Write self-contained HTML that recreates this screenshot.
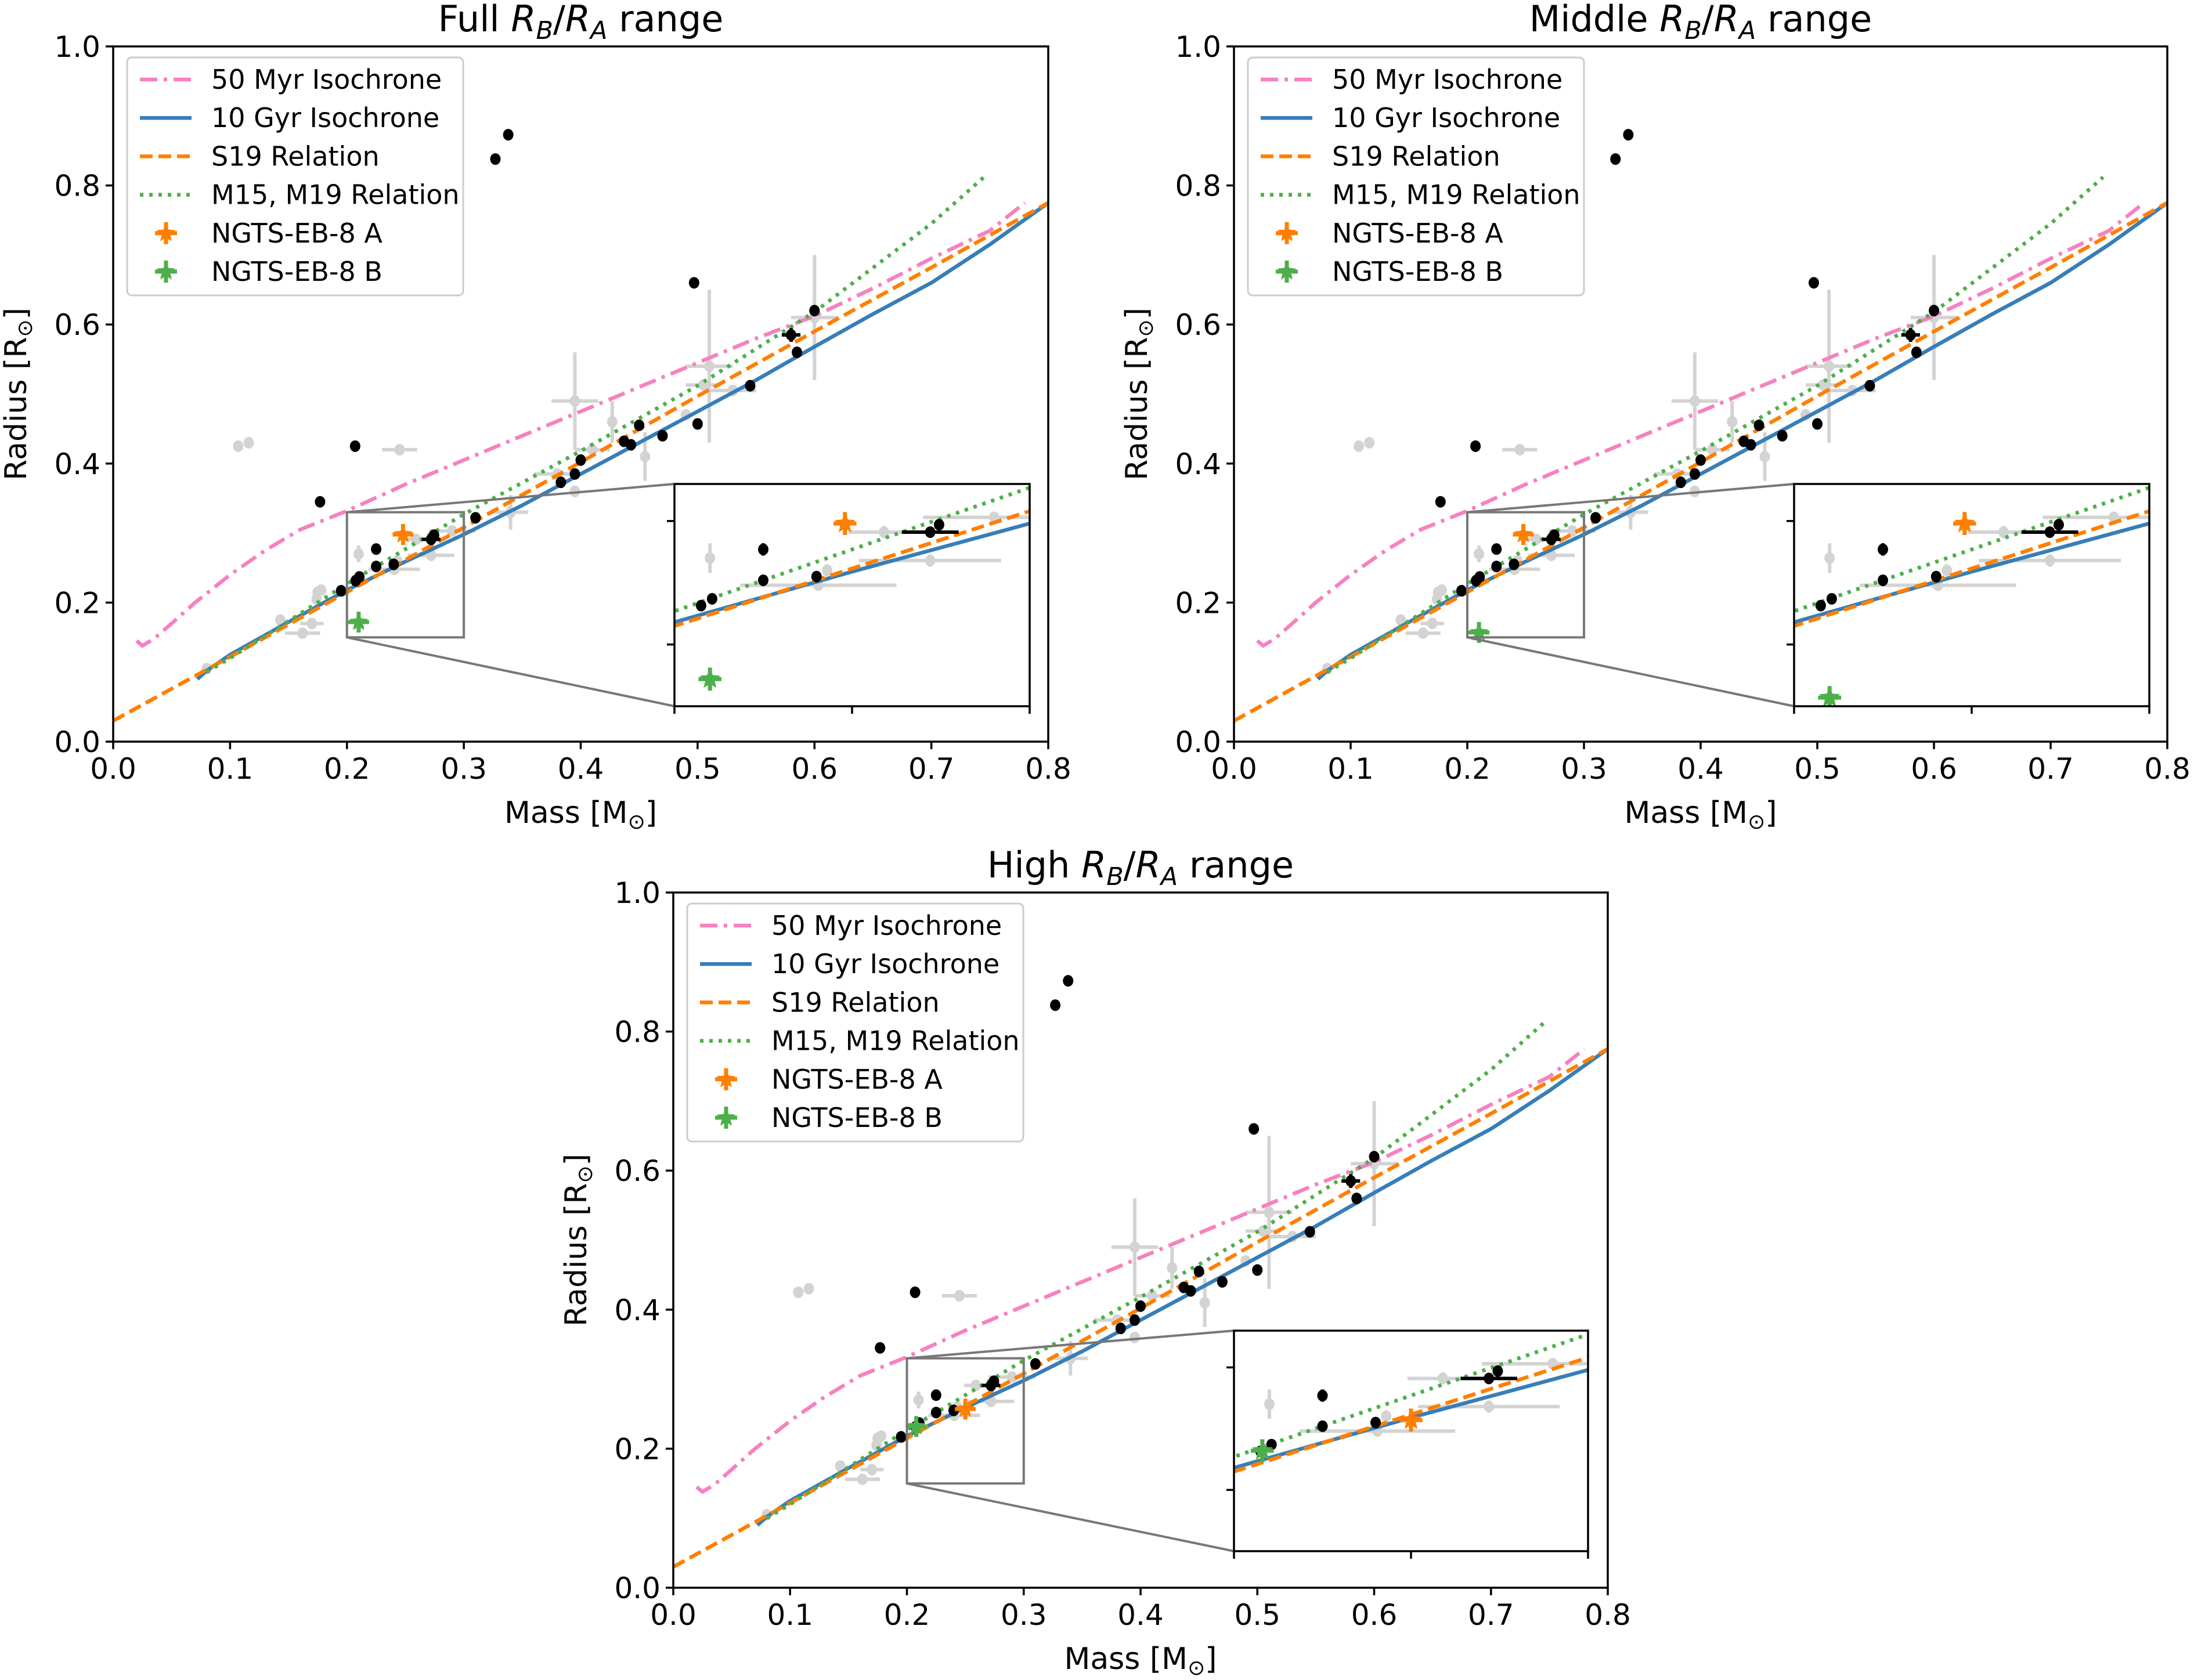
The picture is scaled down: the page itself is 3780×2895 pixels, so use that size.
<!DOCTYPE html>
<html><head><meta charset="utf-8"><style>
html,body{margin:0;padding:0;background:#fff;}
svg{display:block;font-family:"DejaVu Sans","Liberation Sans",sans-serif;}
</style></head><body>
<svg id="fig" width="3780" height="2895" viewBox="0 0 3780 2895" xmlns="http://www.w3.org/2000/svg"></svg>
<script>
const xTicks=[0.0,0.1,0.2,0.3,0.4,0.5,0.6,0.7,0.8];
const yTicks=[0.0,0.2,0.4,0.6,0.8,1.0];
const myrM=[0.02,0.025,0.035,0.05,0.07,0.1,0.13,0.16,0.2,0.25,0.3,0.35,0.4,0.45,0.5,0.55,0.6,0.65,0.7,0.75,0.78];
const myrR=[0.145,0.138,0.148,0.17,0.2,0.24,0.275,0.305,0.332,0.37,0.405,0.44,0.475,0.51,0.545,0.58,0.612,0.652,0.695,0.735,0.775];
const gyrM=[0.072,0.08,0.1,0.15,0.2,0.25,0.3,0.35,0.4,0.45,0.5,0.55,0.6,0.65,0.7,0.75,0.8];
const gyrR=[0.09,0.102,0.125,0.172,0.218,0.259,0.298,0.34,0.385,0.43,0.475,0.52,0.568,0.615,0.66,0.715,0.775];
const s19M=[0.0,0.1,0.2,0.3,0.4,0.5,0.6,0.7,0.8];
const s19R=[0.03,0.122,0.215,0.308,0.402,0.497,0.59,0.682,0.775];
const m15M=[0.08,0.1,0.2,0.3,0.4,0.5,0.6,0.7,0.745];
const m15R=[0.1,0.12,0.227,0.327,0.418,0.512,0.618,0.745,0.812];
const blkM=[0.177,0.207,0.327,0.338,0.497,0.5,0.6,0.585,0.58,0.545,0.47,0.45,0.443,0.437,0.4,0.395,0.383,0.31,0.2745,0.272,0.24,0.225,0.225,0.2106,0.2075,0.195];
const blkR=[0.345,0.425,0.838,0.873,0.66,0.457,0.62,0.56,0.585,0.512,0.44,0.455,0.427,0.432,0.405,0.385,0.373,0.322,0.297,0.291,0.255,0.252,0.277,0.237,0.2315,0.217];
const blkXe=[0,0,0,0,0,0,0,0,0.008,0,0,0,0,0,0,0,0,0,0,0.008,0,0,0,0,0,0];
const blkYe=[0,0,0,0,0,0,0,0,0.01,0,0,0,0,0,0,0,0,0,0,0,0,0,0.005,0,0,0];
const gryM=[0.107,0.116,0.245,0.08,0.143,0.17,0.162,0.175,0.178,0.174,0.21,0.259,0.272,0.2405,0.243,0.29,0.34,0.395,0.427,0.41,0.455,0.38,0.395,0.49,0.51,0.505,0.53,0.6];
const gryR=[0.425,0.43,0.42,0.105,0.175,0.17,0.156,0.215,0.218,0.205,0.27,0.291,0.268,0.248,0.26,0.303,0.33,0.49,0.46,0.42,0.41,0.385,0.36,0.47,0.54,0.513,0.505,0.61];
const gryXe=[0,0,0.015,0,0,0.01,0.015,0,0,0,0,0.01,0.02,0.022,0,0.02,0.015,0.02,0,0.015,0,0.02,0,0,0.02,0.015,0.02,0.02];
const gryYe=[0,0,0,0,0,0,0,0,0,0,0.012,0.005,0.005,0,0.005,0,0.025,0.07,0.03,0,0.035,0,0,0,0.11,0,0,0.09];
const starAM=[0.248,0.248,0.25];
const starAR=[0.298,0.298,0.257];
const starBM=[0.21,0.21,0.208];
const starBR=[0.172,0.157,0.232];
const titles=["Full","Middle","High"];
const legendLabels=["50 Myr Isochrone","10 Gyr Isochrone","S19 Relation","M15, M19 Relation","NGTS-EB-8 A","NGTS-EB-8 B"];

const NS="http://www.w3.org/2000/svg";
const fig=document.getElementById('fig');
function el(tag,attrs,parent){const e=document.createElementNS(NS,tag);for(const k in attrs)e.setAttribute(k,attrs[k]);(parent||fig).appendChild(e);return e;}

const panels=[
 {L:195,R:1806,T:80,B:1278,iL:1162,iR:1774,iT:834,iB:1217},
 {L:2126,R:3734,T:80,B:1278,iL:3091,iR:3703,iT:834,iB:1217},
 {L:1160,R:2770,T:1538,B:2736,iL:2126,iR:2736,iT:2293,iB:2673}];

function starPts(cx,cy,r){let p=[];for(let i=0;i<10;i++){const a=-Math.PI/2+i*Math.PI/5;const rr=i%2?r*0.45:r;p.push((cx+rr*Math.cos(a)).toFixed(1)+','+(cy+rr*Math.sin(a)).toFixed(1));}return p.join(' ');}

function drawData(g,sx,sy,idx,clipId,k,ks){
  const gg=el('g',{'clip-path':'url(#'+clipId+')'},g);
  
  
  const line=(M,R,color,dash,name)=>{
    const d=M.map((m,i)=>(i?'L':'M')+sx(m).toFixed(1)+','+sy(R[i]).toFixed(1)).join(' ');
    const p=el('path',{d:d,fill:'none',stroke:color,'stroke-width':6.5,'stroke-dasharray':dash},gg);
    
    
  };
  gryM.forEach((m,i)=>{
    const x=sx(m),y=sy(gryR[i]);
    if(gryXe[i]){const e=el('line',{x1:sx(m-gryXe[i]),x2:sx(m+gryXe[i]),y1:y,y2:y,stroke:'#d3d3d3','stroke-width':6},gg);}
    if(gryYe[i]){const e=el('line',{x1:x,x2:x,y1:sy(gryR[i]-gryYe[i]),y2:sy(gryR[i]+gryYe[i]),stroke:'#d3d3d3','stroke-width':6},gg);}
    const c=el('ellipse',{cx:x,cy:y,rx:9*k,ry:10*k,fill:'#d3d3d3'},gg);
    
    
  });
  line(myrM,myrR,'#f781bf','30 11 6 11','line-50myr');
  line(gyrM,gyrR,'#377eb8','none','line-10gyr');
  line(s19M,s19R,'#ff7f00','22 10','line-s19');
  line(m15M,m15R,'#4daf4a','6 10','line-m15-m19');
  blkM.forEach((m,i)=>{
    const x=sx(m),y=sy(blkR[i]);
    if(blkXe[i]){const e=el('line',{x1:sx(m-blkXe[i]),x2:sx(m+blkXe[i]),y1:y,y2:y,stroke:'#000','stroke-width':6},gg);}
    if(blkYe[i]){const e=el('line',{x1:x,x2:x,y1:sy(blkR[i]-blkYe[i]),y2:sy(blkR[i]+blkYe[i]),stroke:'#000','stroke-width':6},gg);}
    const c=el('ellipse',{cx:x,cy:y,rx:9*k,ry:10*k,fill:'#000'},gg);
    
    
  });
  const star=(m,r,color,name)=>{
    const x=sx(m),y=sy(r);
    const sg=el('g',{},gg);
    
    
    el('line',{x1:x-18*ks,x2:x+18*ks,y1:y,y2:y,stroke:color,'stroke-width':7},sg);
    el('line',{x1:x,x2:x,y1:y-18*ks,y2:y+18*ks,stroke:color,'stroke-width':7},sg);
    el('polygon',{points:starPts(x,y,17*ks),fill:color},sg);
  };
  star(starAM[idx],starAR[idx],'#ff7f00','ngts-eb-8-a');
  star(starBM[idx],starBR[idx],'#4daf4a','ngts-eb-8-b');
}

const defs=el('defs',{});
panels.forEach((P,idx)=>{
  const g=el('g',{});
  
  
  const sx=m=>P.L+(m-0)/(0.8)*(P.R-P.L);
  const sy=r=>P.B-r*(P.B-P.T);
  const cpm=el('clipPath',{id:'c'+idx},defs);
  el('rect',{x:P.L,y:P.T,width:P.R-P.L,height:P.B-P.T},cpm);
  drawData(g,sx,sy,idx,'c'+idx,1,1);
  const bx1=sx(0.2),bx2=sx(0.3),by1=sy(0.33),by2=sy(0.15);
  const zb=el('rect',{x:bx1,y:by1,width:bx2-bx1,height:by2-by1,fill:'none',stroke:'#777','stroke-width':4},g);
  
  
  const c1=el('line',{x1:bx1,y1:by1,x2:P.iL,y2:P.iT,stroke:'#777','stroke-width':4},g);
  
  
  const c2=el('line',{x1:bx1,y1:by2,x2:P.iL,y2:P.iB,stroke:'#777','stroke-width':4},g);
  
  
  const fr=el('rect',{x:P.L,y:P.T,width:P.R-P.L,height:P.B-P.T,fill:'none',stroke:'#000','stroke-width':3.5},g);
  
  
  xTicks.forEach(t=>{
    el('line',{x1:sx(t),x2:sx(t),y1:P.B,y2:P.B+13,stroke:'#000','stroke-width':3.5},g);
    const tx=el('text',{x:sx(t),y:P.B+64,'font-size':50,'text-anchor':'middle'},g);
    tx.textContent=t.toFixed(1);
    
    
  });
  yTicks.forEach(t=>{
    el('line',{x1:P.L-13,x2:P.L,y1:sy(t),y2:sy(t),stroke:'#000','stroke-width':3.5},g);
    const tx=el('text',{x:P.L-22,y:sy(t)+18,'font-size':50,'text-anchor':'end'},g);
    tx.textContent=t.toFixed(1);
    
    
  });
  const xl=el('text',{x:(P.L+P.R)/2,y:P.B+140,'font-size':52,'text-anchor':'middle'},g);
  xl.innerHTML='Mass [M<tspan font-size="36" dy="10">⊙</tspan><tspan dy="-10">]</tspan>';
  
  
  const yl=el('text',{x:0,y:0,'font-size':52,'text-anchor':'middle',transform:'translate('+(P.L-150)+','+((P.T+P.B)/2)+') rotate(-90)'},g);
  yl.innerHTML='Radius [R<tspan font-size="36" dy="10">⊙</tspan><tspan dy="-10">]</tspan>';
  
  
  const ti=el('text',{x:(P.L+P.R)/2,y:P.T-26,'font-size':62,'text-anchor':'middle'},g);
  ti.innerHTML=titles[idx]+' <tspan font-style="italic">R</tspan><tspan font-style="italic" font-size="43" dy="13">B</tspan><tspan dy="-13">/</tspan><tspan font-style="italic">R</tspan><tspan font-style="italic" font-size="43" dy="13">A</tspan><tspan dy="-13"> range</tspan>';
  
  
  const lx=P.L+24,ly=P.T+19;
  const lg=el('g',{},g);
  
  
  el('rect',{x:lx,y:ly,width:579,height:410,rx:8,fill:'#fff','fill-opacity':0.85,stroke:'#ccc','stroke-width':3},lg);
  const cols=['#f781bf','#377eb8','#ff7f00','#4daf4a','#ff7f00','#4daf4a'];
  const dashes=['30 11 6 11','none','22 10','6 10'];
  legendLabels.forEach((lab,i)=>{
    const yy=ly+38+i*66.2;
    const eg=el('g',{},lg);
    
    
    if(i<4) el('line',{x1:lx+22,x2:lx+111,y1:yy,y2:yy,stroke:cols[i],'stroke-width':6.5,'stroke-dasharray':dashes[i]},eg);
    else {el('line',{x1:lx+48,x2:lx+86,y1:yy,y2:yy,stroke:cols[i],'stroke-width':7},eg);el('line',{x1:lx+67,x2:lx+67,y1:yy-19,y2:yy+19,stroke:cols[i],'stroke-width':7},eg);el('polygon',{points:starPts(lx+67,yy,17),fill:cols[i]},eg);}
    const t=el('text',{x:lx+145,y:yy+16,'font-size':46},eg);t.textContent=lab;
  });
  const ig=el('g',{},g);
  
  
  el('rect',{x:P.iL,y:P.iT,width:P.iR-P.iL,height:P.iB-P.iT,fill:'#fff'},ig);
  const isx=m=>P.iL+(m-0.2)/0.1*(P.iR-P.iL);
  const isy=r=>P.iB-(r-0.15)/0.18*(P.iB-P.iT);
  const cp=el('clipPath',{id:'ci'+idx},defs);
  el('rect',{x:P.iL,y:P.iT,width:P.iR-P.iL,height:P.iB-P.iT},cp);
  drawData(ig,isx,isy,idx,'ci'+idx,1,1.1);
  el('rect',{x:P.iL,y:P.iT,width:P.iR-P.iL,height:P.iB-P.iT,fill:'none',stroke:'#000','stroke-width':3.5},ig);
  [0.2,0.25,0.3].forEach(t=>el('line',{x1:isx(t),x2:isx(t),y1:P.iB,y2:P.iB+13,stroke:'#000','stroke-width':3.5},ig));
  [0.2,0.3].forEach(t=>el('line',{x1:P.iL-13,x2:P.iL,y1:isy(t),y2:isy(t),stroke:'#000','stroke-width':3.5},ig));
});
</script>
</body></html>
